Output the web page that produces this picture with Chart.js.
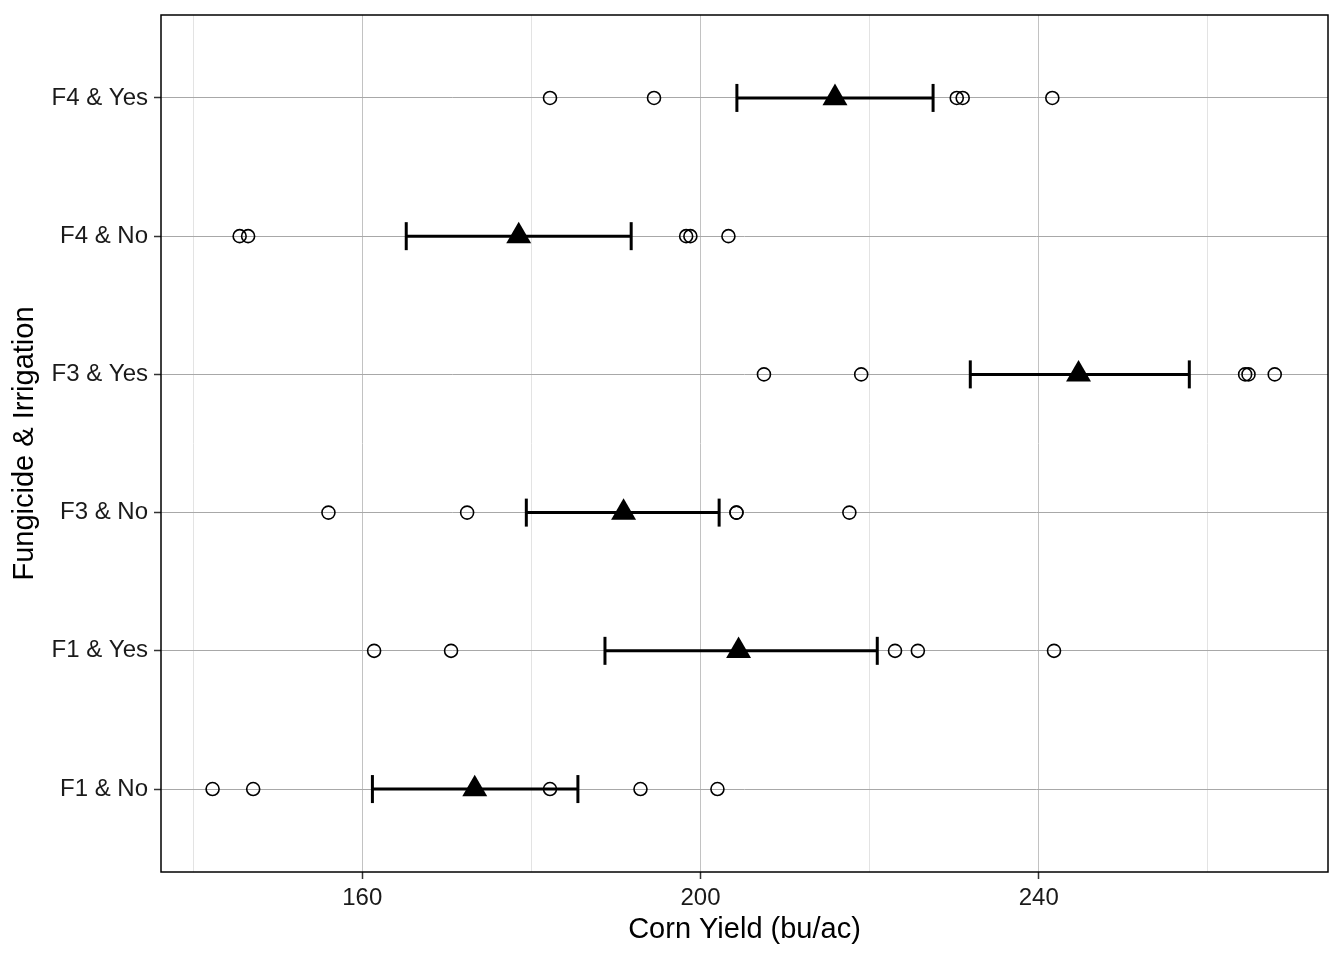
<!DOCTYPE html>
<html lang="en">
<head>
  <meta charset="UTF-8" />
  <title>Corn Yield by Fungicide & Irrigation</title>
  <script src="https://cdn.jsdelivr.net/npm/chart.js"></script>
  <style>
    html, body { margin: 0; padding: 0; background: #ffffff; }
  </style>
</head>
<body>
  <canvas id="yieldChart" width="1344" height="960"></canvas>

  <script>
    // categories, bottom to top
    const groups = ['F1 & No', 'F1 & Yes', 'F3 & No', 'F3 & Yes', 'F4 & No', 'F4 & Yes'];

    // individual plot yields (bu/ac) per group
    const f1No  = [142.3, 147.1, 182.2, 192.9, 202.0];
    const f1Yes = [161.4, 170.5, 223.0, 225.7, 241.8];
    const f3No  = [156.0, 172.4, 204.25, 204.25, 217.6];
    const f3Yes = [207.5, 219.0, 264.4, 264.8, 267.9];
    const f4No  = [145.5, 146.5, 198.3, 198.8, 203.3];
    const f4Yes = [182.2, 194.5, 230.3, 231.0, 241.6];
    const plotYields = [f1No, f1Yes, f3No, f3Yes, f4No, f4Yes];

    // group means and interval ends
    const meanYield = [173.3, 204.5, 190.9, 244.7, 178.5, 215.9];
    const lowerEnd  = [161.2, 188.7, 179.4, 231.9, 165.2, 204.3];
    const upperEnd  = [185.5, 220.9, 202.2, 257.8, 191.8, 227.5];

    // x axis ticks
    const xGridTicks  = [140, 160, 180, 200, 220, 240, 260];
    const xLabelTicks = [160, 200, 240];

    const FONT = "'Liberation Sans', Arial, Helvetica, sans-serif";

    const pointData = [];
    plotYields.forEach((vals, i) => {
      vals.forEach(v => pointData.push({ x: v, y: i + 1 }));
    });

    const datasets = [];

    datasets.push({
      label: 'Plots',
      data: pointData,
      pointStyle: 'circle',
      pointRadius: 6.5,
      pointBackgroundColor: 'rgba(0,0,0,0)',
      pointBorderColor: '#000000',
      pointBorderWidth: 1.6,
      showLine: false,
      order: 3
    });

    groups.forEach((g, i) => {
      datasets.push({
        label: g + ' interval',
        data: [{ x: lowerEnd[i], y: i + 1 }, { x: upperEnd[i], y: i + 1 }],
        showLine: true,
        borderColor: '#000000',
        borderWidth: 3,
        pointStyle: 'line',
        pointRotation: 90,
        pointRadius: 14,
        pointBorderWidth: 3,
        pointBorderColor: '#000000',
        order: 2
      });
    });

    datasets.push({
      label: 'Mean',
      data: meanYield.map((v, i) => ({ x: v, y: i + 1 })),
      pointStyle: 'triangle',
      pointRadius: 14.4,
      pointBackgroundColor: '#000000',
      pointBorderColor: '#000000',
      pointBorderWidth: 0,
      showLine: false,
      order: 1
    });

    const panelBorder = {
      id: 'panelBorder',
      afterDraw(chart) {
        const { ctx, chartArea: a } = chart;
        ctx.save();
        ctx.strokeStyle = '#000000';
        ctx.lineWidth = 1.5;
        ctx.strokeRect(a.left, a.top, a.right - a.left, a.bottom - a.top);
        ctx.restore();
      }
    };

    new Chart(document.getElementById('yieldChart'), {
      type: 'scatter',
      data: { datasets },
      plugins: [panelBorder],
      options: {
        responsive: false,
        animation: false,
        layout: { autoPadding: false, padding: { top: 15, right: 16, left: 0, bottom: 0 } },
        plugins: {
          legend: { display: false },
          tooltip: { enabled: false }
        },
        scales: {
          x: {
            type: 'linear',
            min: 136.2,
            max: 274.2,
            afterBuildTicks: s => { s.ticks = xGridTicks.map(v => ({ value: v })); },
            afterFit: s => { s.height = 88; s.paddingLeft = 0; s.paddingRight = 0; },
            border: { display: false },
            grid: {
              color: c => (c.tick && xLabelTicks.includes(c.tick.value)) ? '#c2c2c2' : '#e3e3e3',
              lineWidth: 1,
              tickLength: 7,
              tickColor: c => (c.tick && xLabelTicks.includes(c.tick.value)) ? '#333333' : 'rgba(0,0,0,0)',
              tickWidth: 1.5
            },
            ticks: {
              autoSkip: false,
              maxRotation: 0,
              padding: 5,
              color: '#1a1a1a',
              font: { family: FONT, size: 24 },
              callback: v => xLabelTicks.includes(v) ? String(v) : ''
            },
            title: {
              display: true,
              text: 'Corn Yield (bu/ac)',
              color: '#000000',
              font: { family: FONT, size: 29 },
              padding: { top: 0, bottom: 13 }
            }
          },
          y: {
            type: 'linear',
            min: 0.4,
            max: 6.6,
            afterBuildTicks: s => { s.ticks = groups.map((g, i) => ({ value: i + 1 })); },
            afterFit: s => { s.width = 161; s.paddingTop = 0; s.paddingBottom = 0; },
            border: { display: false },
            grid: {
              color: '#a8a8a8',
              lineWidth: 1,
              tickLength: 7,
              tickColor: '#333333',
              tickWidth: 1.5
            },
            ticks: {
              autoSkip: false,
              padding: 6,
              color: '#1a1a1a',
              font: { family: FONT, size: 24 },
              callback: v => groups[Math.round(v) - 1] || ''
            },
            title: {
              display: true,
              text: 'Fungicide & Irrigation',
              color: '#000000',
              font: { family: FONT, size: 29 },
              padding: { top: 8, bottom: 0 }
            }
          }
        }
      }
    });
  </script>
</body>
</html>
